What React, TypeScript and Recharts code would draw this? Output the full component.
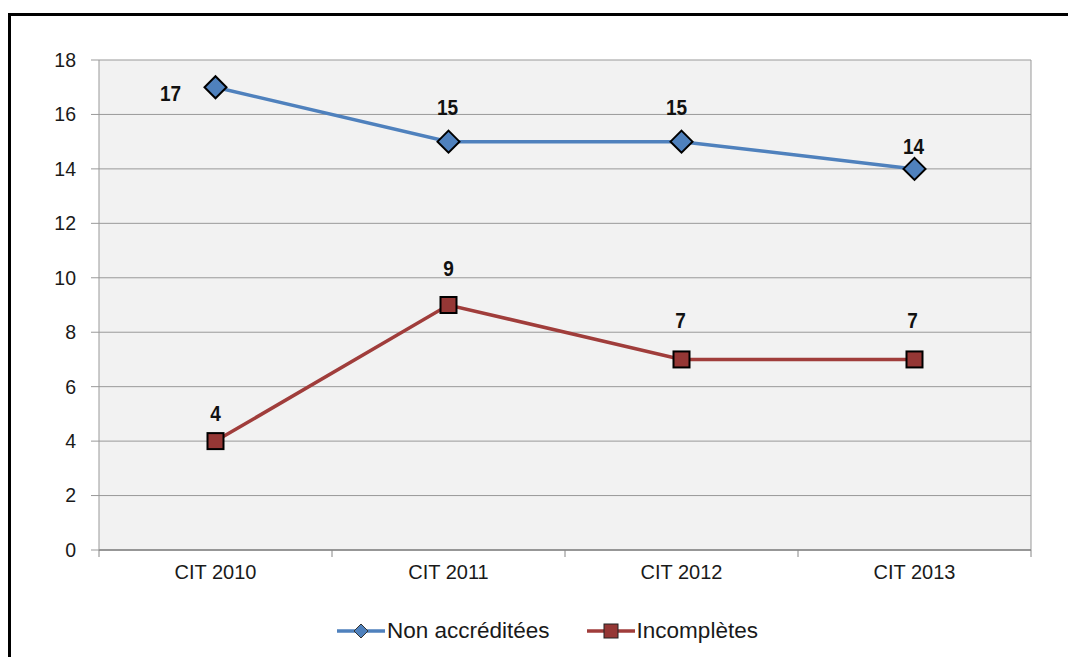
import React from 'react';
import { LineChart, Line, XAxis, YAxis, CartesianGrid, LabelList } from 'recharts';

// Categories and series values
const categories = ['CIT 2010', 'CIT 2011', 'CIT 2012', 'CIT 2013'];
const nonAccreditees = [17, 15, 15, 14];
const incompletes = [4, 9, 7, 7];
const yTicks = [0, 2, 4, 6, 8, 10, 12, 14, 16, 18];
const seriesNames = ['Non accréditées', 'Incomplètes'];

// Label placement relative to each point (dx, dy)
const blueLabelOffsets: [number, number][] = [[-45, 6], [-1, -35], [-5, -35], [-1, -23]];
const redLabelOffsets: [number, number][] = [[0, -28], [0, -37], [-1, -39], [-2, -39]];

const BLUE = '#4f81bd';
const RED_LINE = '#a03d3b';
const RED_FILL = '#953735';
const FONT = '"Liberation Sans", Arial, sans-serif';

const W = 1068;
const H = 657;
const MARGIN = { top: 60, right: 37, left: 39, bottom: 0 };
const Y_AXIS_W = 60;
const X_AXIS_H = 107;
const PLOT_W = W - MARGIN.left - Y_AXIS_W - MARGIN.right;
const STEP = PLOT_W / categories.length;

const data = categories.map((cat, i) => ({
  cat,
  nonAcc: nonAccreditees[i],
  incomp: incompletes[i],
}));

const Diamond = (props: any) => {
  const { cx, cy, index } = props;
  if (cx == null || cy == null) return null;
  const r = 11;
  return (
    <polygon
      key={`d-${index}`}
      points={`${cx},${cy - r} ${cx + r},${cy} ${cx},${cy + r} ${cx - r},${cy}`}
      fill={BLUE}
      stroke="#000"
      strokeWidth={2}
    />
  );
};

const Square = (props: any) => {
  const { cx, cy, index } = props;
  if (cx == null || cy == null) return null;
  const s = 16;
  return (
    <rect
      key={`s-${index}`}
      x={cx - s / 2}
      y={cy - s / 2}
      width={s}
      height={s}
      fill={RED_FILL}
      stroke="#000"
      strokeWidth={2}
    />
  );
};

const makeLabel = (offsets: [number, number][]) => (props: any) => {
  const { x, y, value, index } = props;
  const [dx, dy] = offsets[index] || [0, -30];
  const lx = Number(x) + dx;
  const ly = Number(y) + dy;
  return (
    <text
      x={lx}
      y={ly}
      textAnchor="middle"
      dominantBaseline="central"
      fontFamily={FONT}
      fontSize={19}
      fontWeight="bold"
      fill="#111"
      transform={`translate(${lx} ${ly}) scale(1 1.15) translate(${-lx} ${-ly})`}
    >
      {value}
    </text>
  );
};

const XTick = (props: any) => {
  const { x, y, payload, index } = props;
  const last = index === categories.length - 1;
  return (
    <g>
      <line x1={x - STEP / 2} x2={x - STEP / 2} y1={y} y2={y + 7} stroke="#868686" strokeWidth={1} />
      {last && (
        <line x1={x + STEP / 2} x2={x + STEP / 2} y1={y} y2={y + 7} stroke="#868686" strokeWidth={1} />
      )}
      <text
        x={x}
        y={y + 22}
        textAnchor="middle"
        dominantBaseline="central"
        fontFamily={FONT}
        fontSize={20}
        fill="#1a1a1a"
      >
        {payload.value}
      </text>
    </g>
  );
};

const LegendItem = ({ name, kind }: { name: string; kind: 'diamond' | 'square' }) => (
  <div style={{ display: 'flex', alignItems: 'center' }}>
    <svg width={50} height={24}>
      <line x1={1} x2={49} y1={12} y2={12} stroke={kind === 'diamond' ? BLUE : RED_LINE} strokeWidth={3.5} />
      {kind === 'diamond' ? (
        <polygon points="25,5 32,12 25,19 18,12" fill={BLUE} stroke="#333" strokeWidth={1} />
      ) : (
        <rect x={18} y={5} width={14} height={14} fill={RED_FILL} stroke="#222" strokeWidth={1} />
      )}
    </svg>
    <span style={{ fontFamily: FONT, fontSize: 22.5, color: '#1a1a1a', marginLeft: 1 }}>{name}</span>
  </div>
);

export default function App() {
  return (
    <div
      style={{
        position: 'absolute',
        left: 0,
        top: 0,
        width: W,
        height: H,
        overflow: 'hidden',
        background: '#fff',
      }}
    >
      <div
        style={{
          position: 'absolute',
          left: 8,
          top: 13,
          width: 1200,
          height: 800,
          border: '3px solid #000',
          boxSizing: 'border-box',
        }}
      />
      <div style={{ position: 'absolute', left: 0, top: 0 }}>
        <LineChart width={W} height={H} data={data} margin={MARGIN}>
          <CartesianGrid
            fill="#f2f2f2"
            stroke="#999"
            strokeWidth={1}
            verticalCoordinatesGenerator={(p: any) => [p.offset.left + p.offset.width]}
          />
          <XAxis
            dataKey="cat"
            height={X_AXIS_H}
            padding={{ left: STEP / 2, right: STEP / 2 }}
            axisLine={{ stroke: '#868686', strokeWidth: 1.5 }}
            tickLine={false}
            tickSize={0}
            tickMargin={0}
            tick={<XTick />}
            interval={0}
          />
          <YAxis
            width={Y_AXIS_W}
            domain={[0, 18]}
            ticks={yTicks}
            interval={0}
            axisLine={{ stroke: '#999' }}
            tickLine={{ stroke: '#999' }}
            tickSize={8}
            tickMargin={15}
            tick={{ fontFamily: FONT, fontSize: 19.5, fill: '#1a1a1a' }}
          />
          <Line
            dataKey="nonAcc"
            name={seriesNames[0]}
            stroke={BLUE}
            strokeWidth={3.5}
            dot={Diamond}
            activeDot={false}
            isAnimationActive={false}
          >
            <LabelList dataKey="nonAcc" content={makeLabel(blueLabelOffsets)} />
          </Line>
          <Line
            dataKey="incomp"
            name={seriesNames[1]}
            stroke={RED_LINE}
            strokeWidth={3.5}
            dot={Square}
            activeDot={false}
            isAnimationActive={false}
          >
            <LabelList dataKey="incomp" content={makeLabel(redLabelOffsets)} />
          </Line>
        </LineChart>
      </div>
      <div
        style={{
          position: 'absolute',
          left: 336,
          top: 618,
          display: 'flex',
          alignItems: 'center',
          gap: 36,
        }}
      >
        <LegendItem name={seriesNames[0]} kind="diamond" />
        <LegendItem name={seriesNames[1]} kind="square" />
      </div>
    </div>
  );
}
